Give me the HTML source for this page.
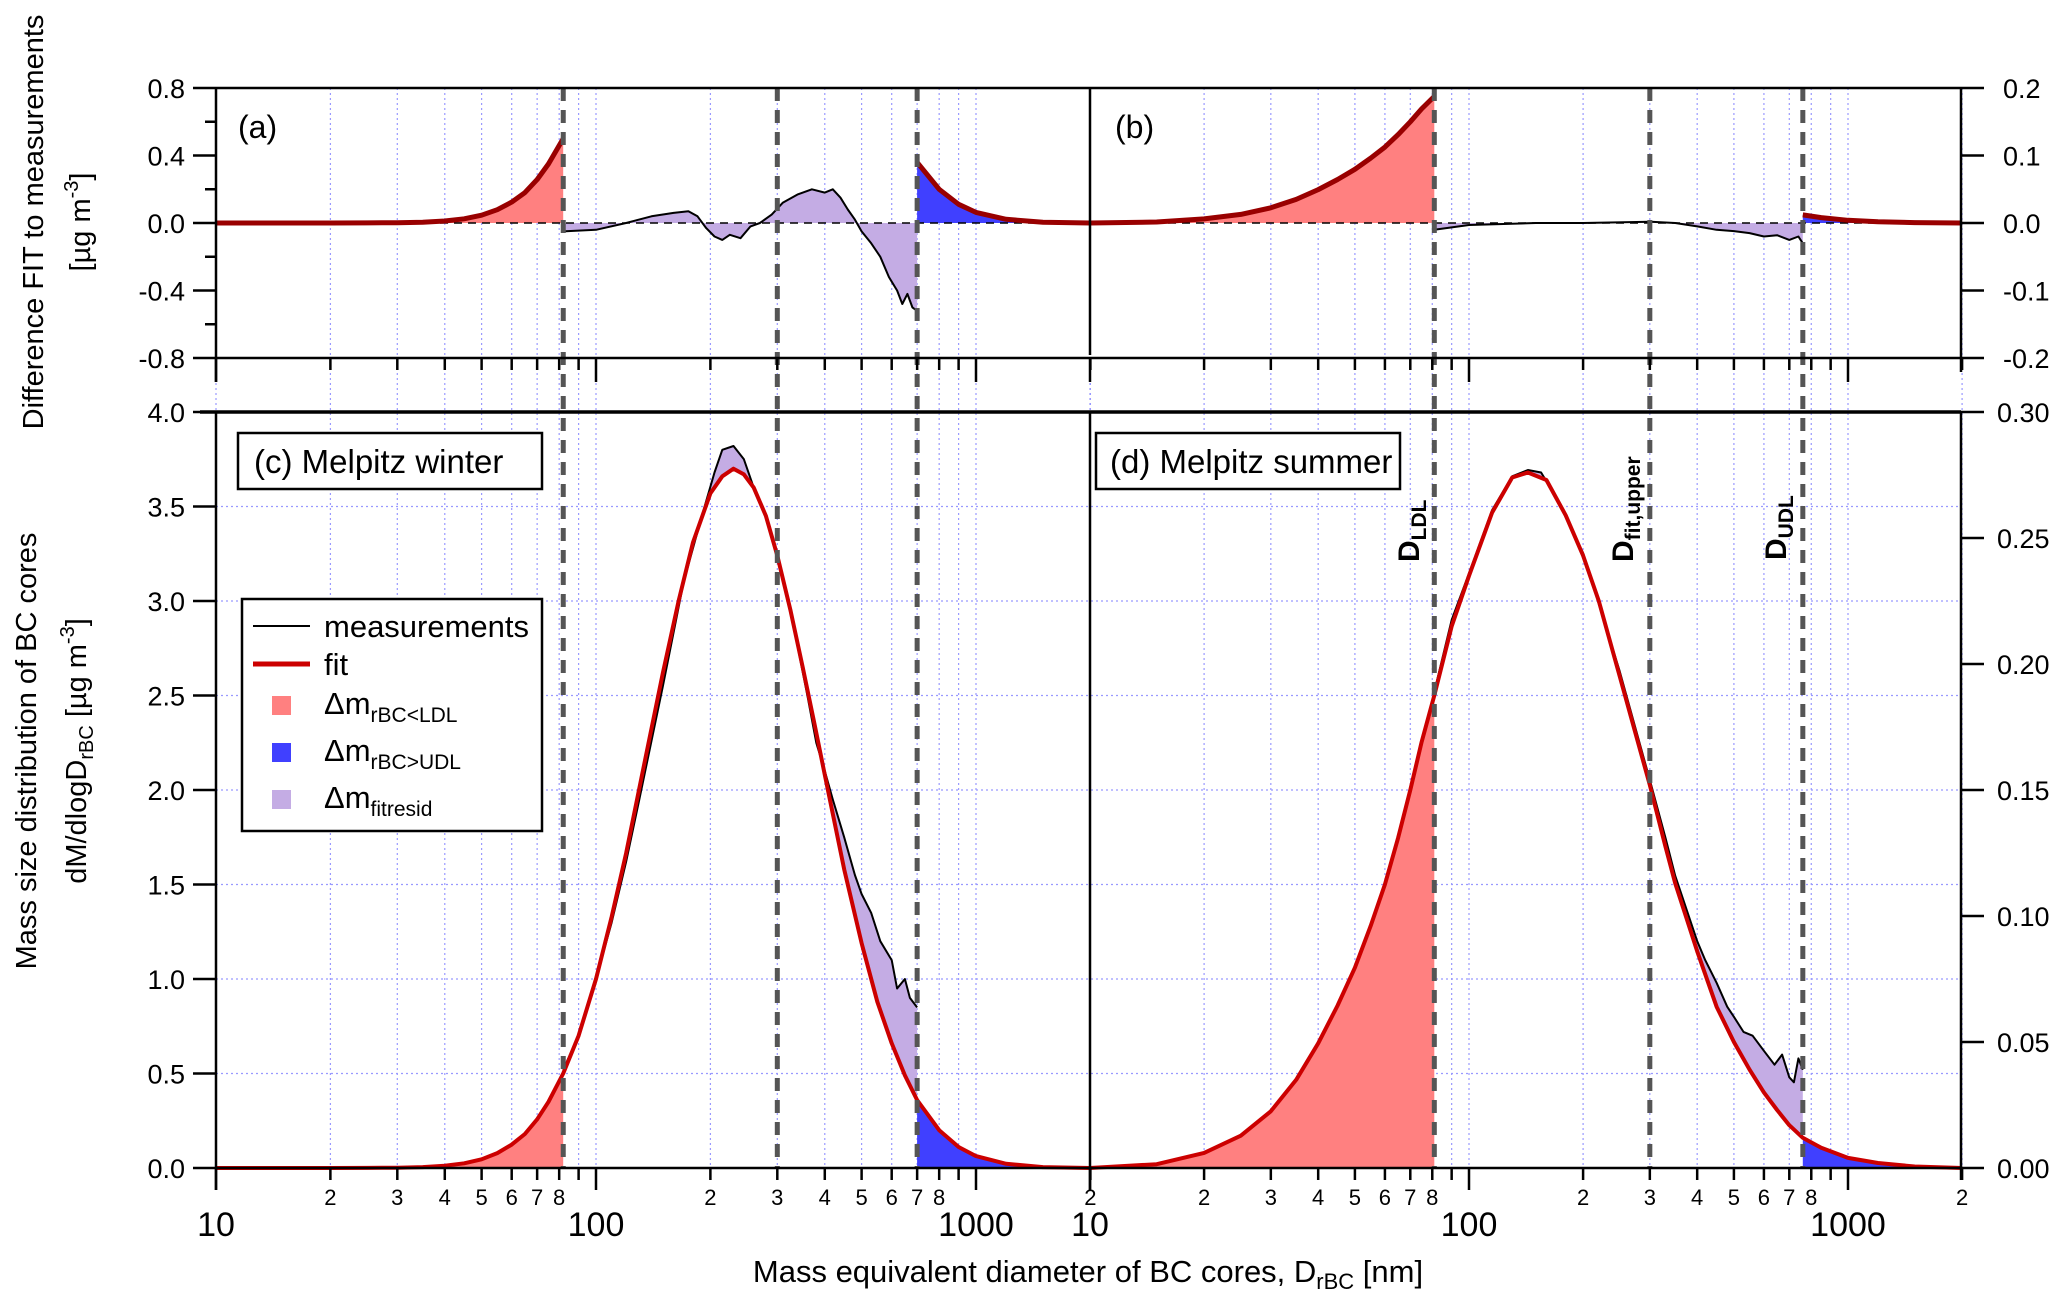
<!DOCTYPE html>
<html><head><meta charset="utf-8"><style>
html,body{margin:0;padding:0;background:#fff;}
svg{display:block;font-family:"Liberation Sans",Arial,sans-serif;}
</style></head><body>
<svg id="chart" width="2067" height="1307" viewBox="0 0 2067 1307" xmlns="http://www.w3.org/2000/svg">
<g id="grid"></g>
<g id="fills"></g>
<g id="lines"></g>
<g id="axes"></g>
<g id="labels">
<text transform="translate(43,222) rotate(-90)" text-anchor="middle" font-size="29">Difference FIT to measurements</text>
<text transform="translate(90,222) rotate(-90)" text-anchor="middle" font-size="29">[µg m<tspan dy="-12" font-size="20">-3</tspan><tspan dy="12">]</tspan></text>
<text transform="translate(36,751) rotate(-90)" text-anchor="middle" font-size="29">Mass size distribution of BC cores</text>
<text transform="translate(86,751) rotate(-90)" text-anchor="middle" font-size="29">dM/dlogD<tspan dy="7" font-size="20">rBC</tspan><tspan dy="-7"> [µg m</tspan><tspan dy="-12" font-size="20">-3</tspan><tspan dy="12">]</tspan></text>
<text x="1088" y="1282" text-anchor="middle" font-size="31">Mass equivalent diameter of BC cores, D<tspan dy="7" font-size="22">rBC</tspan><tspan dy="-7"> [nm]</tspan></text>
<text x="238" y="138" font-size="32">(a)</text>
<text x="1115" y="138" font-size="32">(b)</text>
<rect x="238" y="433" width="304" height="56" fill="#fff" stroke="#000" stroke-width="2.5"/>
<text x="254" y="473" font-size="33">(c) Melpitz winter</text>
<rect x="1096" y="433" width="304" height="56" fill="#fff" stroke="#000" stroke-width="2.5"/>
<text x="1110" y="473" font-size="33">(d) Melpitz summer</text>
<text transform="translate(1419,562) rotate(-90)" font-size="30" font-weight="bold">D<tspan dy="7" font-size="21">LDL</tspan></text>
<text transform="translate(1633,562) rotate(-90)" font-size="30" font-weight="bold">D<tspan dy="7" font-size="21">fit,upper</tspan></text>
<text transform="translate(1786,560) rotate(-90)" font-size="30" font-weight="bold">D<tspan dy="7" font-size="21">UDL</tspan></text>
<g>
<rect x="242" y="599" width="300" height="232" fill="#fff" stroke="#000" stroke-width="2.5"/>
<line x1="253" y1="626" x2="310" y2="626" stroke="#000" stroke-width="2"/>
<text x="324" y="637" font-size="31">measurements</text>
<line x1="253" y1="664" x2="310" y2="664" stroke="#cc0000" stroke-width="5"/>
<text x="324" y="675" font-size="31">fit</text>
<rect x="272" y="696" width="19" height="19" fill="#ff8080"/>
<text x="324" y="714" font-size="31">Δm<tspan dy="8" font-size="21">rBC&lt;LDL</tspan></text>
<rect x="272" y="743" width="19" height="19" fill="#4040ff"/>
<text x="324" y="761" font-size="31">Δm<tspan dy="8" font-size="21">rBC&gt;UDL</tspan></text>
<rect x="272" y="790" width="19" height="19" fill="#c4ace4"/>
<text x="324" y="808" font-size="31">Δm<tspan dy="8" font-size="21">fitresid</tspan></text>
</g>
</g>
</svg>
<script>
// ---- data ----
const winterFitD = [10,15,20,25,30,35,40,45,50,55,60,65,70,75,82,90,100,110,120,135,150,165,180,200,215,230,245,260,280,300,325,350,375,400,450,500,550,600,650,700,800,900,1000,1200,1500,2000];
const winterFitV = [0,0,0,0.0003,0.0015,0.0047,0.012,0.025,0.046,0.079,0.124,0.18,0.257,0.35,0.50,0.70,1.0,1.33,1.665,2.17,2.62,3.0,3.31,3.57,3.66,3.70,3.67,3.60,3.45,3.24,2.95,2.65,2.36,2.08,1.58,1.19,0.88,0.66,0.49,0.36,0.20,0.111,0.063,0.022,0.005,0];
const winterMeasD = [82,90,100,110,120,130,150,170,190,205,215,230,245,260,280,300,320,340,360,380,400,420,450,480,500,530,560,600,620,650,670,700];
const winterMeasV = [0.52,0.7,1.0,1.3,1.62,1.95,2.55,3.1,3.45,3.68,3.8,3.82,3.75,3.6,3.45,3.25,3.0,2.75,2.5,2.25,2.1,1.95,1.75,1.55,1.45,1.35,1.2,1.1,0.95,1.0,0.9,0.85];
const winterResidD = [82,100,120,140,160,175,185,195,205,215,225,240,255,270,290,310,340,370,400,420,440,460,480,500,530,560,590,620,640,660,680,700];
const winterResidV = [-0.05,-0.04,0.0,0.04,0.06,0.07,0.04,-0.03,-0.08,-0.1,-0.07,-0.09,-0.02,0.0,0.05,0.12,0.17,0.2,0.18,0.2,0.15,0.08,0.02,-0.05,-0.12,-0.2,-0.32,-0.4,-0.48,-0.42,-0.5,-0.52];
const summerFitD = [10,15,20,25,30,35,40,45,50,55,60,65,70,75,81,90,100,115,130,143,160,180,200,220,250,275,300,330,350,400,450,500,550,600,650,700,760,850,1000,1200,1500,2000];
const summerFitV = [0,0.0015,0.006,0.0128,0.0225,0.035,0.0495,0.0645,0.0795,0.096,0.1125,0.131,0.15,0.169,0.1875,0.215,0.235,0.26,0.274,0.276,0.273,0.259,0.243,0.225,0.195,0.1725,0.152,0.1275,0.113,0.086,0.064,0.050,0.039,0.030,0.023,0.017,0.012,0.008,0.004,0.002,0.0006,0];
const summerMeasD = [81,90,100,115,130,143,155,170,200,250,300,330,350,400,420,450,480,500,530,560,600,640,670,700,720,740,760];
const summerMeasV = [0.189,0.2175,0.236,0.261,0.2745,0.277,0.276,0.266,0.244,0.197,0.154,0.131,0.116,0.09,0.0825,0.0735,0.064,0.06,0.054,0.0525,0.0465,0.041,0.045,0.036,0.034,0.0435,0.039];
const summerResidD = [81,100,150,200,300,350,400,450,500,550,600,650,700,740,760];
const summerResidV = [-0.01,-0.003,0,0,0.002,0,-0.005,-0.01,-0.012,-0.015,-0.02,-0.018,-0.025,-0.02,-0.03];
const winterLimits = [82,300,700];
const summerLimits = [81,300,760];
const leftTopTicks = [-0.8,-0.4,0.0,0.4,0.8];
const rightTopTicks = [-0.2,-0.1,0.0,0.1,0.2];
const leftBotTicks = [0,0.5,1,1.5,2,2.5,3,3.5,4];
const rightBotTicks = [0,0.05,0.1,0.15,0.2,0.25,0.3];

// ---- scales ----
const lg = Math.log10;
const xL = d => 216 + 380*(lg(d)-1);
const xR = d => 1090 + 379*(lg(d)-1);
const yTA = v => 223 - v*168.75;
const yTB = v => 223 - v*675;
const yBL = v => 1168 - v*189;
const yBR = v => 1168 - v*2520;
const NS = "http://www.w3.org/2000/svg";
const G = id => document.getElementById(id);
function mk(tag, parent, attrs){const e=document.createElementNS(NS,tag);for(const k in attrs)e.setAttribute(k,attrs[k]);parent.appendChild(e);return e;}
const pts = (D,V,xf,yf)=>D.map((d,i)=>xf(d).toFixed(1)+","+yf(V[i]).toFixed(1));
function sub(D,V,lo,hi){const d=[],v=[];D.forEach((x,i)=>{if(x>=lo&&x<=hi){d.push(x);v.push(V[i]);}});return [d,v];}

// ---- grid ----
const grid=G('grid');
const minors=[];for(const dec of [10,100,1000])for(let k=1;k<10;k++){const d=dec*k;if(d<=2000)minors.push(d);}
[xL,xR].forEach(xf=>minors.forEach(d=>{
 const l=mk('line',grid,{x1:xf(d),x2:xf(d),y1:88,y2:1168,stroke:'#9999ff','stroke-width':1.2,'stroke-dasharray':'2,3'});
 
 
}));
leftBotTicks.forEach(v=>{
 const l=mk('line',grid,{x1:216,x2:1961,y1:yBL(v),y2:yBL(v),stroke:'#9999ff','stroke-width':1.2,'stroke-dasharray':'2,3'});
 
 
});

// ---- fills ----
const F=G('fills');
function areaUnder(D,V,xf,yf,base,color,name){
 const p=pts(D,V,xf,yf);
 const poly=mk('polygon',F,{points:xf(D[0]).toFixed(1)+","+base+" "+p.join(" ")+" "+xf(D[D.length-1]).toFixed(1)+","+base,fill:color});
 
 
}
function areaBetween(MD,MV,FD,FV,xf,yf,color,name){
 const [fd,fv]=sub(FD,FV,MD[0],MD[MD.length-1]);
 const p=pts(MD,MV,xf,yf).concat(pts(fd,fv,xf,yf).reverse());
 const poly=mk('polygon',F,{points:p.join(" "),fill:color});
 
 
}
let s=sub(winterFitD,winterFitV,10,winterLimits[0]);areaUnder(s[0],s[1],xL,yBL,1168,'#ff8080','winter-ldl-area');
s=sub(winterFitD,winterFitV,winterLimits[2],2000);areaUnder(s[0],s[1],xL,yBL,1168,'#4040ff','winter-udl-area');
areaBetween(winterMeasD,winterMeasV,winterFitD,winterFitV,xL,yBL,'#c4ace4','winter-fitresid-area');
s=sub(summerFitD,summerFitV,10,summerLimits[0]);areaUnder(s[0],s[1],xR,yBR,1168,'#ff8080','summer-ldl-area');
s=sub(summerFitD,summerFitV,summerLimits[2],2000);areaUnder(s[0],s[1],xR,yBR,1168,'#4040ff','summer-udl-area');
areaBetween(summerMeasD,summerMeasV,summerFitD,summerFitV,xR,yBR,'#c4ace4','summer-fitresid-area');
s=sub(winterFitD,winterFitV,10,winterLimits[0]);areaUnder(s[0],s[1],xL,yTA,223,'#ff8080','diff-a-ldl-area');
s=sub(winterFitD,winterFitV,winterLimits[2],2000);areaUnder(s[0],s[1],xL,yTA,223,'#4040ff','diff-a-udl-area');
areaUnder(winterResidD,winterResidV,xL,yTA,223,'#c4ace4','diff-a-resid-area');
s=sub(summerFitD,summerFitV,10,summerLimits[0]);areaUnder(s[0],s[1],xR,yTB,223,'#ff8080','diff-b-ldl-area');
s=sub(summerFitD,summerFitV,summerLimits[2],2000);areaUnder(s[0],s[1],xR,yTB,223,'#4040ff','diff-b-udl-area');
areaUnder(summerResidD,summerResidV,xR,yTB,223,'#c4ace4','diff-b-resid-area');

// ---- lines ----
const L=G('lines');
function pl(D,V,xf,yf,color,w,name){
 const e=mk('polyline',L,{points:pts(D,V,xf,yf).join(" "),fill:'none',stroke:color,'stroke-width':w,'stroke-linejoin':'round'});
 
 
}
const z=mk('line',L,{x1:216,x2:1961,y1:223,y2:223,stroke:'#000','stroke-width':1.5,'stroke-dasharray':'8,6'});


pl(winterMeasD,winterMeasV,xL,yBL,'#000',2,'winter-measurements-line');
pl(winterFitD,winterFitV,xL,yBL,'#cc0000',4,'winter-fit-line');
pl(summerMeasD,summerMeasV,xR,yBR,'#000',2,'summer-measurements-line');
pl(summerFitD,summerFitV,xR,yBR,'#cc0000',4,'summer-fit-line');
pl(winterResidD,winterResidV,xL,yTA,'#000',2,'diff-a-resid-line');
pl(summerResidD,summerResidV,xR,yTB,'#000',2,'diff-b-resid-line');
s=sub(winterFitD,winterFitV,10,winterLimits[0]);pl(s[0],s[1],xL,yTA,'#990000',5,'diff-a-ldl-line');
s=sub(winterFitD,winterFitV,winterLimits[2],2000);pl(s[0],s[1],xL,yTA,'#990000',5,'diff-a-udl-line');
s=sub(summerFitD,summerFitV,10,summerLimits[0]);pl(s[0],s[1],xR,yTB,'#990000',5,'diff-b-ldl-line');
s=sub(summerFitD,summerFitV,summerLimits[2],2000);pl(s[0],s[1],xR,yTB,'#990000',5,'diff-b-udl-line');
[[winterLimits,xL],[summerLimits,xR]].forEach(([lims,xf])=>lims.forEach(d=>{
 const e=mk('line',L,{x1:xf(d),x2:xf(d),y1:88,y2:1168,stroke:'#555','stroke-width':5,'stroke-dasharray':'13,9'});
 
 
}));

// ---- axes ----
const A=G('axes');
function ln(x1,y1,x2,y2,w,name){const e=mk('line',A,{x1,y1,x2,y2,stroke:'#000','stroke-width':w});
 
 }
function tx(x,y,t,size,anchor,name){const e=mk('text',A,{x,y,'font-size':size,'text-anchor':anchor});e.textContent=t;
 
 }
ln(216,88,1961,88,2.5,'top-frame');ln(216,358,1961,358,2.5,'top-panel-bottom');
ln(216,88,216,382,2.5,'left-axis-top');ln(1961,88,1961,372,2.5,'right-axis-top');ln(1090,88,1090,355,2.5,'panel-divider-top');
ln(200,412,1961,412,3.5,'bottom-panel-top');ln(216,1168,1961,1168,2.5,'x-axis-line');
ln(216,412,216,1190,2.5,'left-axis-bottom');ln(1961,412,1961,1180,2.5,'right-axis-bottom');ln(1090,412,1090,1190,2.5,'panel-divider-bottom');
leftTopTicks.forEach(v=>{ln(193,yTA(v),216,yTA(v),2.5,'y-tick');tx(185,yTA(v)+10,v.toFixed(1),27,'end','y-tick-label');});
[-0.6,-0.2,0.2,0.6].forEach(v=>ln(205,yTA(v),216,yTA(v),2.5,'y-minor-tick'));
rightTopTicks.forEach(v=>{ln(1961,yTB(v),1984,yTB(v),2.5,'y2-tick');tx(2003,yTB(v)+10,v.toFixed(1),27,'start','y2-tick-label');});
leftBotTicks.forEach(v=>{ln(193,yBL(v),216,yBL(v),2.5,'y-tick');tx(185,yBL(v)+10,v.toFixed(1),27,'end','y-tick-label');});
rightBotTicks.forEach(v=>{ln(1961,yBR(v),1984,yBR(v),2.5,'y2-tick');tx(1997,yBR(v)+10,v.toFixed(2),27,'start','y2-tick-label');});
[xL,xR].forEach(xf=>minors.forEach(d=>{
 const major=(d===10||d===100||d===1000);
 const m=d/Math.pow(10,Math.floor(lg(d)));
 ln(xf(d),1168,xf(d),major?1190:1180,2.5,'x-tick');
 ln(xf(d),358,xf(d),major?382:370,2.5,'x-tick-top');
 if(!major&&m!==9) tx(xf(d),1205,String(m),22,'middle','x-minor-tick-label');
 if(major) tx(xf(d),1236,String(d),34,'middle','x-major-tick-label');
}));
</script>
</body></html>
